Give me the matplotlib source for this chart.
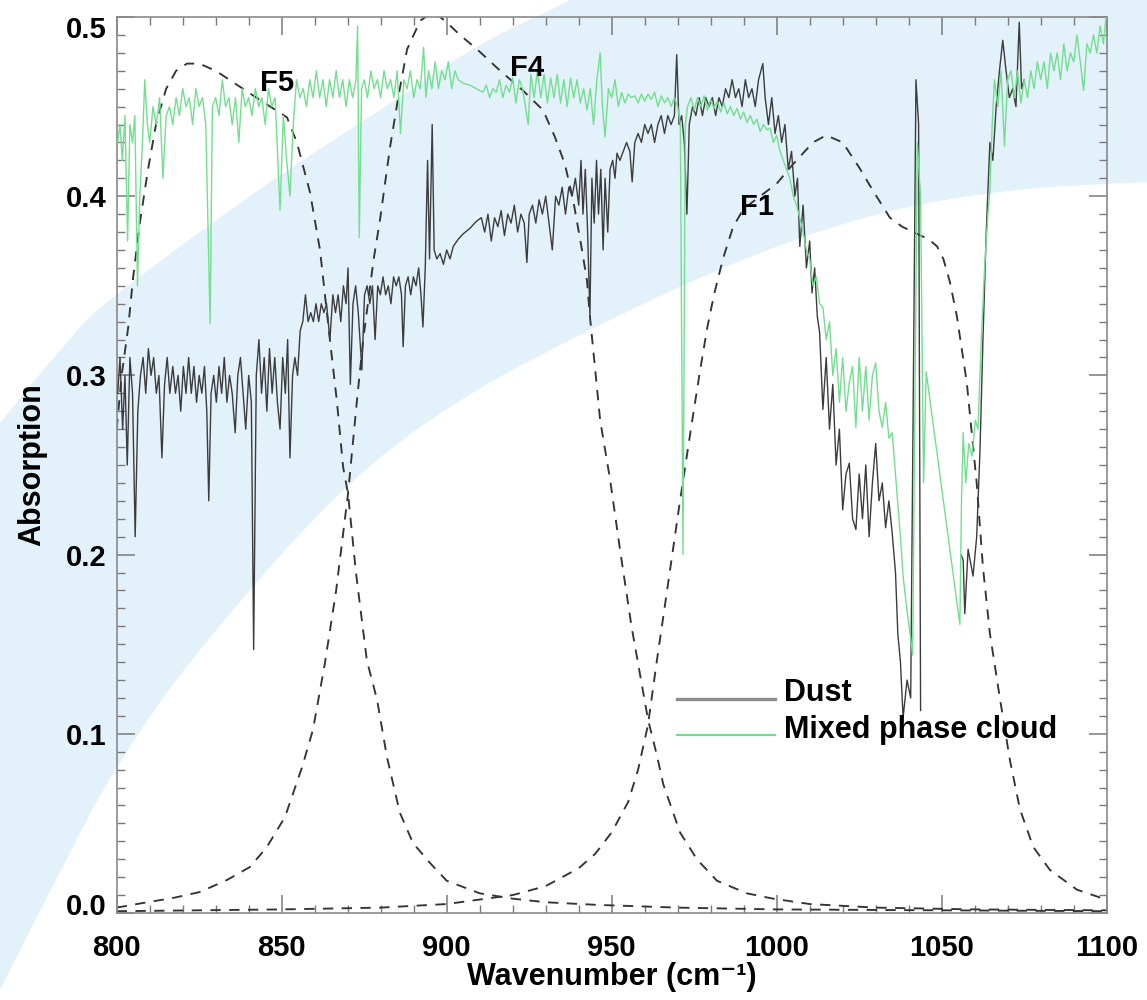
import numpy as np
import matplotlib
matplotlib.use("Agg")
import matplotlib.pyplot as plt
from matplotlib.patches import Polygon
from matplotlib.lines import Line2D
from matplotlib.ticker import MultipleLocator, FixedLocator, FormatStrFormatter
import matplotlib.transforms as mtransforms

plt.rcParams['font.family'] = ['Liberation Sans', 'DejaVu Sans']
plt.rcParams['font.weight'] = 'bold'

# ---------------- data ----------------
dust_pts = [
    (800.3, 0.29), (801.0, 0.31), (801.8, 0.27), (802.5, 0.30), (803.2, 0.25), (804.0, 0.31),
    (804.8, 0.29), (805.6, 0.21), (806.4, 0.28), (807.2, 0.30), (808.0, 0.31), (808.8, 0.29),
    (809.6, 0.315), (810.4, 0.30), (811.2, 0.31), (812.0, 0.29), (812.8, 0.30), (813.7, 0.254),
    (814.5, 0.295), (815.3, 0.31), (816.1, 0.29), (817.0, 0.305), (817.8, 0.29), (818.6, 0.30),
    (819.4, 0.28), (820.2, 0.305), (821.0, 0.29), (821.8, 0.31), (822.6, 0.29), (823.4, 0.305),
    (824.2, 0.285), (825.0, 0.30), (825.8, 0.29), (826.6, 0.305), (827.3, 0.28), (827.9, 0.23),
    (828.6, 0.29), (829.4, 0.30), (830.2, 0.285), (831.0, 0.305), (831.8, 0.29), (832.6, 0.31),
    (833.4, 0.285), (834.2, 0.30), (835.0, 0.29), (835.9, 0.268), (836.7, 0.30), (837.5, 0.31),
    (838.3, 0.29), (839.1, 0.27), (840.0, 0.30), (840.8, 0.285), (841.5, 0.147), (842.3, 0.30),
    (843.1, 0.32), (843.9, 0.29), (844.7, 0.31), (845.5, 0.28), (846.3, 0.315), (847.1, 0.29),
    (847.9, 0.31), (848.7, 0.285), (849.5, 0.27), (850.3, 0.31), (851.1, 0.29), (851.8, 0.32),
    (852.5, 0.254), (853.3, 0.30), (854.0, 0.31), (854.8, 0.30), (855.6, 0.325), (856.4, 0.33),
    (857.2, 0.345), (858.0, 0.33), (858.8, 0.335), (859.6, 0.33), (860.4, 0.34), (861.2, 0.33),
    (862.0, 0.34), (862.8, 0.335), (863.6, 0.34), (864.6, 0.32), (865.5, 0.345), (866.3, 0.335),
    (867.1, 0.345), (867.9, 0.33), (868.7, 0.35), (869.5, 0.34), (870.1, 0.36), (870.8, 0.295),
    (871.6, 0.34), (872.4, 0.35), (873.2, 0.335), (874.3, 0.303), (875.1, 0.345), (875.9, 0.35),
    (876.7, 0.34), (877.5, 0.35), (878.3, 0.32), (879.1, 0.35), (879.9, 0.345), (880.7, 0.355),
    (881.5, 0.345), (882.3, 0.35), (883.1, 0.34), (883.9, 0.355), (884.7, 0.35), (885.5, 0.355),
    (886.3, 0.345), (886.8, 0.316), (887.5, 0.35), (888.3, 0.355), (889.1, 0.345), (889.9, 0.355),
    (890.7, 0.35), (891.5, 0.36), (892.2, 0.345), (892.8, 0.327), (893.5, 0.36), (894.2, 0.42),
    (894.8, 0.365), (895.6, 0.44), (896.2, 0.37), (897.0, 0.365), (898.0, 0.368), (899.0, 0.362),
    (900.0, 0.37), (901.0, 0.365), (902.0, 0.372), (903.5, 0.376), (905.0, 0.379), (907.0, 0.382),
    (909.0, 0.386), (910.5, 0.388), (911.5, 0.38), (912.5, 0.39), (913.5, 0.375), (914.5, 0.388),
    (915.5, 0.383), (916.5, 0.392), (917.5, 0.378), (918.5, 0.39), (919.5, 0.385), (920.5, 0.395),
    (921.5, 0.38), (922.5, 0.39), (923.5, 0.385), (924.3, 0.363), (925.0, 0.39), (926.0, 0.395),
    (927.0, 0.385), (928.0, 0.398), (929.0, 0.39), (930.0, 0.40), (931.0, 0.385), (932.0, 0.37),
    (933.0, 0.40), (934.0, 0.395), (935.0, 0.405), (936.0, 0.39), (937.0, 0.405), (938.0, 0.40),
    (939.0, 0.41), (940.0, 0.395), (940.7, 0.42), (941.3, 0.39), (942.0, 0.415), (942.7, 0.38),
    (943.4, 0.333), (944.0, 0.41), (944.7, 0.385), (945.4, 0.42), (946.0, 0.39), (946.7, 0.415),
    (947.4, 0.37), (948.0, 0.41), (948.8, 0.38), (949.5, 0.415), (950.3, 0.42), (951.0, 0.41),
    (951.6, 0.424), (952.5, 0.42), (953.5, 0.425), (954.5, 0.43), (955.5, 0.425), (956.2, 0.408),
    (957.0, 0.43), (958.0, 0.435), (959.0, 0.43), (960.0, 0.44), (961.0, 0.435), (962.0, 0.44),
    (963.0, 0.43), (964.0, 0.44), (965.0, 0.445), (966.0, 0.435), (967.0, 0.445), (968.0, 0.44),
    (969.0, 0.445), (969.7, 0.479), (970.4, 0.44), (971.2, 0.445), (972.0, 0.43), (972.8, 0.39),
    (973.5, 0.44), (974.5, 0.45), (975.5, 0.445), (976.5, 0.455), (977.5, 0.445), (978.5, 0.455),
    (979.5, 0.45), (980.5, 0.455), (981.5, 0.445), (982.5, 0.455), (983.5, 0.45), (984.5, 0.46),
    (985.5, 0.455), (986.5, 0.465), (987.5, 0.455), (988.5, 0.46), (989.5, 0.45), (990.5, 0.465),
    (991.5, 0.455), (992.5, 0.46), (993.5, 0.45), (994.5, 0.465), (995.8, 0.474), (996.5, 0.455),
    (997.5, 0.44), (998.5, 0.455), (999.5, 0.435), (1000.5, 0.445), (1001.5, 0.43), (1002.5, 0.44),
    (1003.5, 0.415), (1004.5, 0.425), (1005.5, 0.40), (1006.3, 0.41), (1007.0, 0.372), (1008.0, 0.395),
    (1009.0, 0.36), (1010.0, 0.375), (1010.7, 0.346), (1011.5, 0.36), (1012.3, 0.333), (1013.0, 0.324),
    (1014.0, 0.281), (1015.0, 0.31), (1016.0, 0.27), (1017.0, 0.295), (1018.0, 0.25), (1019.0, 0.27),
    (1020.0, 0.225), (1021.0, 0.245), (1022.0, 0.251), (1023.0, 0.22), (1024.0, 0.214), (1025.0, 0.245),
    (1026.0, 0.22), (1027.0, 0.25), (1028.0, 0.21), (1029.0, 0.24), (1030.0, 0.262), (1031.0, 0.23),
    (1032.0, 0.24), (1033.0, 0.215), (1034.0, 0.23), (1035.0, 0.212), (1036.0, 0.19), (1036.7, 0.156),
    (1037.5, 0.14), (1038.3, 0.109), (1039.5, 0.13), (1040.6, 0.12), (1042.2, 0.465), (1043.0, 0.44),
    (1043.6, 0.113), (1049.0, np.nan),
    (1055.8, 0.20), (1056.5, 0.197), (1057.0, 0.167), (1058.0, 0.203), (1059.5, 0.188), (1060.6, 0.21),
    (1061.6, 0.258), (1062.5, 0.32), (1063.5, 0.38), (1064.6, 0.43), (1065.5, 0.42), (1066.5, 0.45),
    (1067.5, 0.47), (1068.5, 0.487), (1069.5, 0.47), (1070.5, 0.455), (1071.5, 0.46), (1072.5, 0.45),
    (1073.5, 0.497), (1074.2, 0.46), (1075.0, 0.465),
]

cloud_pts = [
    (800.3, 0.43), (801.0, 0.44), (801.7, 0.42), (802.5, 0.445), (803.3, 0.375), (804.0, 0.44),
    (804.8, 0.43), (805.5, 0.445), (806.3, 0.35), (807.0, 0.40), (807.8, 0.43), (808.5, 0.465),
    (809.3, 0.44), (810.0, 0.43), (811.0, 0.45), (812.0, 0.44), (813.0, 0.455), (814.0, 0.41),
    (815.0, 0.445), (816.0, 0.45), (817.0, 0.44), (818.0, 0.455), (819.0, 0.445), (820.0, 0.46),
    (821.0, 0.45), (822.0, 0.455), (823.0, 0.44), (824.0, 0.46), (825.0, 0.45), (826.0, 0.455),
    (827.0, 0.44), (828.3, 0.329), (829.0, 0.45), (830.0, 0.455), (831.0, 0.445), (832.0, 0.465),
    (833.0, 0.45), (834.0, 0.455), (835.0, 0.44), (836.0, 0.455), (837.0, 0.43), (838.0, 0.46),
    (839.0, 0.45), (840.0, 0.455), (841.0, 0.445), (842.0, 0.46), (843.0, 0.45), (844.0, 0.455),
    (845.0, 0.44), (846.0, 0.46), (847.0, 0.45), (848.0, 0.455), (849.5, 0.392), (850.5, 0.445),
    (851.5, 0.42), (852.5, 0.40), (853.5, 0.44), (854.5, 0.465), (855.5, 0.455), (856.5, 0.46),
    (857.5, 0.45), (858.5, 0.465), (859.5, 0.455), (860.5, 0.47), (861.5, 0.455), (862.5, 0.465),
    (863.5, 0.45), (864.5, 0.465), (865.5, 0.455), (866.5, 0.47), (867.5, 0.455), (868.5, 0.465),
    (869.5, 0.45), (870.5, 0.465), (871.5, 0.455), (872.5, 0.465), (873.0, 0.495), (873.5, 0.377),
    (874.2, 0.46), (875.0, 0.465), (876.0, 0.455), (877.0, 0.47), (878.0, 0.46), (879.0, 0.465),
    (880.0, 0.455), (881.0, 0.47), (882.0, 0.46), (883.0, 0.465), (884.0, 0.455), (885.0, 0.47),
    (886.0, 0.435), (887.0, 0.465), (888.0, 0.46), (889.0, 0.47), (890.0, 0.455), (891.0, 0.465),
    (892.0, 0.46), (893.0, 0.483), (893.7, 0.455), (894.5, 0.47), (895.5, 0.46), (896.5, 0.475),
    (897.5, 0.46), (898.5, 0.47), (899.5, 0.465), (900.5, 0.475), (901.5, 0.46), (902.5, 0.47),
    (903.5, 0.465), (905.0, 0.463), (907.0, 0.462), (909.0, 0.46), (911.0, 0.458), (912.0, 0.462),
    (913.0, 0.455), (914.0, 0.46), (915.0, 0.458), (916.0, 0.465), (917.0, 0.455), (918.0, 0.462),
    (919.0, 0.458), (920.0, 0.466), (921.0, 0.452), (922.0, 0.465), (923.0, 0.46), (924.7, 0.44),
    (925.5, 0.468), (926.5, 0.455), (927.5, 0.47), (928.5, 0.455), (929.5, 0.468), (930.5, 0.452),
    (931.5, 0.466), (932.5, 0.455), (933.5, 0.468), (934.5, 0.452), (935.5, 0.465), (936.5, 0.45),
    (937.5, 0.466), (938.5, 0.455), (939.5, 0.465), (940.5, 0.452), (941.5, 0.46), (942.5, 0.448),
    (943.5, 0.46), (944.5, 0.44), (945.5, 0.465), (946.5, 0.48), (947.2, 0.45), (948.0, 0.433),
    (949.0, 0.46), (950.0, 0.455), (951.0, 0.465), (952.0, 0.45), (953.0, 0.458), (954.0, 0.452),
    (955.0, 0.457), (956.0, 0.455), (957.0, 0.456), (958.0, 0.452), (959.0, 0.457), (960.0, 0.453),
    (961.0, 0.457), (962.0, 0.454), (963.0, 0.458), (964.0, 0.45), (965.0, 0.456), (966.0, 0.452),
    (967.0, 0.455), (968.0, 0.45), (969.0, 0.455), (970.0, 0.45), (970.8, 0.44), (971.6, 0.20),
    (972.3, 0.44), (973.0, 0.45), (974.0, 0.455), (975.0, 0.448), (976.0, 0.455), (977.0, 0.45),
    (978.0, 0.456), (979.0, 0.448), (980.0, 0.454), (981.0, 0.449), (982.0, 0.453), (983.0, 0.447),
    (984.0, 0.452), (985.0, 0.446), (986.0, 0.45), (987.0, 0.445), (988.0, 0.449), (989.0, 0.443),
    (990.0, 0.447), (991.0, 0.441), (992.0, 0.445), (993.0, 0.44), (994.0, 0.443), (995.0, 0.436),
    (996.0, 0.44), (997.0, 0.437), (998.0, 0.438), (999.0, 0.43), (1000.0, 0.434), (1001.0, 0.425),
    (1002.0, 0.42), (1003.0, 0.415), (1004.0, 0.41), (1005.0, 0.40), (1006.0, 0.395), (1007.0, 0.388),
    (1008.0, 0.38), (1009.0, 0.37), (1010.0, 0.365), (1011.0, 0.35), (1012.0, 0.355), (1013.0, 0.34),
    (1014.0, 0.338), (1015.0, 0.32), (1016.0, 0.33), (1017.0, 0.30), (1018.0, 0.315), (1019.0, 0.285),
    (1020.0, 0.31), (1021.0, 0.28), (1022.0, 0.296), (1023.0, 0.305), (1024.0, 0.271), (1025.0, 0.31),
    (1026.0, 0.28), (1027.0, 0.305), (1028.0, 0.275), (1029.0, 0.30), (1030.0, 0.307), (1031.0, 0.28),
    (1032.0, 0.271), (1033.0, 0.285), (1034.0, 0.265), (1035.0, 0.268), (1036.0, 0.245), (1036.8, 0.227),
    (1037.5, 0.21), (1038.3, 0.188), (1039.4, 0.17), (1040.4, 0.156), (1041.2, 0.144), (1042.6, 0.43),
    (1043.6, 0.40), (1044.5, 0.24), (1045.3, 0.302), (1055.5, 0.161), (1056.0, 0.23), (1056.5, 0.268),
    (1057.3, 0.24), (1058.2, 0.262), (1059.2, 0.255), (1060.2, 0.275), (1061.0, 0.27), (1062.0, 0.32),
    (1063.0, 0.36), (1064.0, 0.39), (1064.6, 0.403), (1065.3, 0.44), (1066.0, 0.465), (1067.0, 0.45),
    (1068.0, 0.47), (1069.0, 0.428), (1070.0, 0.465), (1071.0, 0.47), (1072.0, 0.455), (1073.0, 0.47),
    (1074.0, 0.452), (1075.0, 0.465), (1076.0, 0.455), (1077.0, 0.47), (1078.0, 0.46), (1079.0, 0.475),
    (1080.0, 0.465), (1081.0, 0.475), (1082.0, 0.46), (1083.0, 0.48), (1084.0, 0.47), (1085.0, 0.48),
    (1086.0, 0.465), (1087.0, 0.485), (1088.0, 0.47), (1089.0, 0.48), (1090.0, 0.475), (1091.0, 0.49),
    (1092.0, 0.475), (1093.0, 0.459), (1094.0, 0.485), (1095.0, 0.48), (1096.0, 0.49), (1097.0, 0.48),
    (1098.0, 0.495), (1099.0, 0.485), (1099.8, 0.50),
]

f5_wn = [800, 801.5, 803.5, 805, 807, 809.5, 812, 815, 818, 821.3, 825, 830, 837.4, 844, 851.6,
         854.6, 858.6, 861.6, 864.6, 866.7, 868.6, 870.1, 872.5, 875.8, 878.9, 881.9, 885.8, 889.8,
         894.9, 900, 910, 920, 930, 946, 970, 1000, 1050, 1100]
f5_resp = [0.27, 0.30, 0.327, 0.355, 0.385, 0.415, 0.441, 0.46, 0.47, 0.474, 0.474, 0.47, 0.461,
           0.453, 0.444, 0.43, 0.402, 0.37, 0.32, 0.286, 0.249, 0.234, 0.19, 0.141, 0.119, 0.087,
           0.056, 0.039, 0.028, 0.018, 0.011, 0.008, 0.006, 0.0045, 0.003, 0.002, 0.0015, 0.001]

f4_wn = [800, 808, 817.1, 825.2, 833.4, 840.4, 845.5, 851, 856.2, 859.5, 863.1, 866.5, 870.1, 872.8,
         874.7, 877.8, 879.8, 882.8, 885.3, 888, 892, 896, 900, 904, 909.2, 916.2, 923.1, 929.2,
         932.8, 935.8, 938.3, 941, 942.5, 943.4, 946.5, 949.5, 952.5, 956, 961, 963.7, 965.6, 970.7,
         975.8, 981.9, 990.9, 998.9, 1010, 1030, 1060, 1100]
f4_resp = [0.003, 0.0056, 0.0084, 0.0117, 0.0184, 0.0257, 0.0368, 0.0536, 0.0815, 0.1025, 0.1395,
           0.18, 0.234, 0.286, 0.32, 0.364, 0.387, 0.427, 0.455, 0.482, 0.498, 0.503, 0.497, 0.49,
           0.482, 0.47, 0.459, 0.448, 0.433, 0.418, 0.398, 0.37, 0.353, 0.333, 0.275, 0.242, 0.203,
           0.16, 0.108, 0.088, 0.072, 0.045, 0.03, 0.018, 0.011, 0.008, 0.005, 0.003, 0.002, 0.0015]

f1_wn = [800, 850, 880, 900, 920, 930, 940, 945, 950, 955, 958, 961, 963.7, 966, 970.7, 974, 976.8,
         979, 981, 983.7, 986.8, 990, 995, 1000, 1005, 1008, 1011, 1015, 1020, 1025, 1029.2, 1034.3,
         1038, 1042.5, 1046, 1048.6, 1050.5, 1052.5, 1054.6, 1057.6, 1060.6, 1062.5, 1064.6, 1067.7,
         1070.7, 1073.7, 1077.7, 1082.8, 1091, 1099, 1100]
f1_resp = [0.001, 0.002, 0.003, 0.005, 0.01, 0.015, 0.025, 0.033, 0.045, 0.062, 0.08, 0.105, 0.141,
           0.17, 0.23, 0.27, 0.303, 0.327, 0.345, 0.365, 0.383, 0.393, 0.40, 0.407, 0.418, 0.424, 0.43,
           0.434, 0.43, 0.416, 0.403, 0.388, 0.383, 0.379, 0.376, 0.372, 0.365, 0.352, 0.333, 0.296,
           0.24, 0.193, 0.156, 0.119, 0.085, 0.058, 0.037, 0.024, 0.013, 0.008, 0.0075]

filter_labels = ["F5", "F4", "F1"]
filter_label_pos = [(848.6, 0.463), (924.3, 0.4715), (994.0, 0.394)]
series_names = ["Dust", "Mixed phase cloud"]

dust_wn = [p[0] for p in dust_pts]
dust_abs = [p[1] for p in dust_pts]
cloud_wn = [p[0] for p in cloud_pts]
cloud_abs = [p[1] for p in cloud_pts]

# ---------------- figure ----------------
W, H = 1147, 1000
fig = plt.figure(figsize=(W / 100, H / 100), dpi=100)
fig.patch.set_facecolor('white')

# decorative light-blue arc band (figure pixel coords)
def catmull(pts, n=40):
    pts = np.asarray(pts, float)
    P = np.vstack([2 * pts[0] - pts[1], pts, 2 * pts[-1] - pts[-2]])
    out = []
    t = np.linspace(0, 1, n, endpoint=False)[:, None]
    for i in range(1, len(P) - 2):
        p0, p1, p2, p3 = P[i - 1], P[i], P[i + 1], P[i + 2]
        out.append(0.5 * ((2 * p1) + (-p0 + p2) * t + (2 * p0 - 5 * p1 + 4 * p2 - p3) * t ** 2
                          + (-p0 + 3 * p1 - 3 * p2 + p3) * t ** 3))
    out.append(pts[-1][None, :])
    return np.vstack(out)

band_upper = [(-20, 448), (0, 423), (63, 347), (110, 300), (250, 196), (380, 110), (480, 45),
              (570, 0), (620, -32)]
band_lower = [(-20, 1030), (0, 990), (60, 872), (117, 767), (200, 650), (333, 500), (450, 407),
              (600, 325), (750, 257), (883, 213), (1017, 190), (1170, 181)]
up = catmull(band_upper)
lo = catmull(band_lower)[::-1]
poly = np.vstack([up, [(1180, -40)], lo])
poly_fig = np.column_stack([poly[:, 0] / W, 1 - poly[:, 1] / H])
fig.patches.append(Polygon(poly_fig, closed=True, transform=fig.transFigure,
                           facecolor='#e3f1fa', edgecolor='none', zorder=0))

ax = fig.add_axes([116.7 / W, 1 - 913 / H, (1106.7 - 116.7) / W, (913 - 17) / H])
ax.set_facecolor('none')
ax.set_zorder(1)

dash_col = '#333333'
for wn, rsp in [(f5_wn, f5_resp), (f4_wn, f4_resp), (f1_wn, f1_resp)]:
    ax.plot(wn, rsp, color=dash_col, lw=1.35, linestyle=(0, (5.5, 4.5)), zorder=2)

ax.plot(dust_wn, dust_abs, color='#3c3c3c', lw=1.0, zorder=3)
ax.plot(cloud_wn, cloud_abs, color='#74de90', lw=1.0, zorder=4)

for lab, (lx, ly) in zip(filter_labels, filter_label_pos):
    ax.text(lx, ly, lab, fontsize=21, fontweight='bold', ha='center', va='center', zorder=5)

ax.set_xlim(800, 1100)
ax.set_ylim(0, 0.5)
ax.xaxis.set_major_locator(MultipleLocator(50))
ax.xaxis.set_minor_locator(MultipleLocator(10))
ax.yaxis.set_major_locator(FixedLocator([0, 0.1, 0.2, 0.3, 0.4, 0.5]))
ax.yaxis.set_minor_locator(MultipleLocator(0.01))
ax.yaxis.set_major_formatter(FormatStrFormatter('%.1f'))

tick_col = '#7a7a7a'
ax.tick_params(which='both', direction='in', top=True, right=True, color=tick_col)
ax.tick_params(which='major', length=13, width=1.1, labelsize=21)
ax.tick_params(which='minor', length=6, width=1.0)
ax.tick_params(axis='x', which='major', pad=15)
ax.tick_params(axis='y', which='major', pad=7)
for s in ax.spines.values():
    s.set_color('#8a8a8a')
    s.set_linewidth(1.2)
for lbl in ax.get_xticklabels() + ax.get_yticklabels():
    lbl.set_fontweight('bold')

ax.set_xlabel('Wavenumber (cm\u207b\u00b9)', fontsize=22, fontweight='bold', labelpad=0)
ax.set_ylabel('Absorption', fontsize=22, fontweight='bold', labelpad=14)

# legend drawn as lines + text (figure pixel coords)
def fx(px):
    return px / W
def fy(py):
    return 1 - py / H
fig.lines.append(Line2D([fx(677), fx(775)], [fy(699), fy(699)], transform=fig.transFigure,
                        color='#8c8c8c', lw=2.4, zorder=6))
fig.lines.append(Line2D([fx(677), fx(775)], [fy(735), fy(735)], transform=fig.transFigure,
                        color='#66e08a', lw=1.4, zorder=6))
fig.text(fx(784), fy(693), series_names[0], fontsize=22, fontweight='bold', ha='left', va='center', zorder=6)
fig.text(fx(784), fy(730), series_names[1], fontsize=22, fontweight='bold', ha='left', va='center', zorder=6)

# nudge end labels inward like the original
fig.canvas.draw()
yt = ax.yaxis.get_major_ticks()
off_up = mtransforms.ScaledTranslation(0, 6.5 / 72, fig.dpi_scale_trans)
off_dn = mtransforms.ScaledTranslation(0, -7.0 / 72, fig.dpi_scale_trans)
yt[0].label1.set_transform(yt[0].label1.get_transform() + off_up)
yt[-1].label1.set_transform(yt[-1].label1.get_transform() + off_dn)

fig.savefig('out.png', dpi=100)
